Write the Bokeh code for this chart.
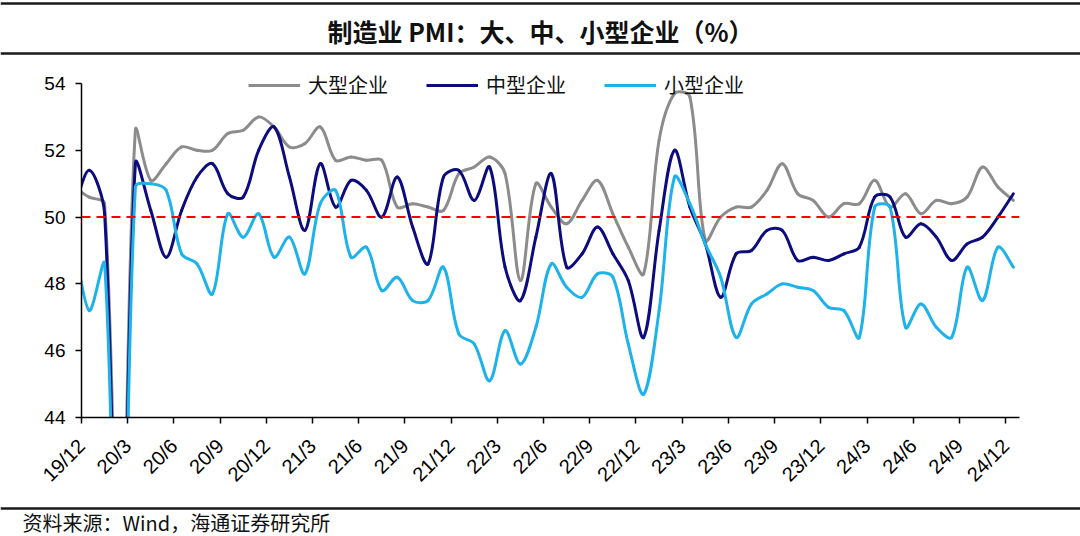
import math
import numpy as np
from bokeh.plotting import figure
from bokeh.models import Range1d, FixedTicker, Span, Legend, LegendItem, ColumnDataSource, Label
from bokeh.layouts import column, row
from bokeh.embed import file_html
from bokeh.resources import INLINE

# ---------------- data (monthly, 2019-11 .. 2024-12) ----------------
months = (["2019-11", "2019-12"] +
          [f"{y}-{m:02d}" for y in range(2020, 2025) for m in range(1, 13)])

large = [50.9, 50.6,
         50.4, 36.8, 52.6, 51.1, 51.6, 52.1, 52.0, 52.0, 52.5, 52.6, 53.0, 52.7,
         52.1, 52.2, 52.7, 51.7, 51.8, 51.7, 51.7, 50.3, 50.4, 50.3, 50.2, 51.3,
         51.5, 51.8, 51.3, 48.1, 51.0, 50.3, 49.8, 50.5, 51.1, 50.1, 49.1, 48.3,
         52.3, 53.7, 53.6, 49.3, 50.0, 50.3, 50.3, 50.8, 51.6, 50.7, 50.5, 50.0,
         50.4, 50.4, 51.1, 50.3, 50.7, 50.1, 50.5, 50.4, 50.6, 51.5, 50.9, 50.5]

medium = [50.2, 51.4,
          50.1, 35.5, 51.6, 50.2, 48.8, 50.2, 51.2, 51.6, 50.7, 50.6, 52.0, 52.7,
          51.2, 49.6, 51.6, 50.3, 51.1, 50.8, 50.0, 51.2, 49.7, 48.6, 51.2, 51.4,
          50.5, 51.5, 48.5, 47.5, 49.4, 51.3, 48.5, 48.9, 49.7, 48.9, 48.1, 46.4,
          49.6, 52.0, 50.3, 49.2, 47.6, 48.9, 49.0, 49.6, 49.6, 48.7, 48.8, 48.7,
          48.9, 49.1, 50.6, 50.6, 49.4, 49.8, 49.4, 48.7, 49.2, 49.4, 50.0, 50.7]

small = [49.4, 47.2,
         48.6, 34.1, 50.9, 51.0, 50.8, 48.9, 48.6, 47.7, 50.1, 49.4, 50.1, 48.8,
         49.4, 48.3, 50.4, 50.8, 48.8, 49.1, 47.8, 48.2, 47.5, 47.5, 48.5, 46.5,
         46.2, 45.1, 46.6, 45.6, 46.7, 48.6, 47.9, 47.6, 48.3, 48.2, 46.2, 44.7,
         47.2, 51.2, 50.4, 49.2, 48.2, 46.4, 47.4, 47.7, 48.0, 47.9, 47.8, 47.3,
         47.2, 46.4, 50.3, 50.3, 46.7, 47.4, 46.7, 46.4, 48.5, 47.5, 49.1, 48.5]

series_names = ["大型企业", "中型企业", "小型企业"]
series_colors = ["#8c8c8c", "#0c0c7e", "#1db2ea"]

tick_labels = ["19/12", "20/3", "20/6", "20/9", "20/12", "21/3", "21/6", "21/9",
               "21/12", "22/3", "22/6", "22/9", "22/12", "23/3", "23/6", "23/9",
               "23/12", "24/3", "24/6", "24/9", "24/12"]
y_ticks = [44, 46, 48, 50, 52, 54]

title_text = "制造业 PMI：大、中、小型企业（%）"
source_text = "资料来源：Wind，海通证券研究所"

# category centres: each month sits half a month past its boundary tick
xpos = [i - 0.5 for i in range(len(months))]   # 2019-11 -> -0.5, 2019-12 -> 0.5

# ---------------- layout constants ----------------
W = 1080
HEAD_H, MAIN_H, FOOT_H = 55, 441, 40
FR_LEFT, FR_RIGHT, FR_TOP, FR_BOTTOM = 81, 61, 12, 79
SY = 33.4                                        # px per PMI point
Y_END = 54 + (MAIN_H - FR_TOP - FR_BOTTOM - 10 * SY) / SY
X_END = 60.9
SX = (W - FR_LEFT - FR_RIGHT) / X_END            # px per month


def smooth_source(xs, ys):
    """Chord-weighted cubic Bezier segments through the data points (screen-space smoothing)."""
    P = np.column_stack([np.asarray(xs, float) * SX, np.asarray(ys, float) * SY])
    n = len(P)
    T = np.zeros_like(P)
    T[1:-1] = P[2:] - P[:-2]
    T[0] = P[1] - P[0]
    T[-1] = P[-1] - P[-2]
    d = np.linalg.norm(P[1:] - P[:-1], axis=1)
    c1, c2 = [], []
    for i in range(n - 1):
        dl = d[i - 1] if i > 0 else d[i]
        dr = d[i + 1] if i < n - 2 else d[i]
        c1.append(P[i] + T[i] * d[i] / (3.0 * (dl + d[i])))
        c2.append(P[i + 1] - T[i + 1] * d[i] / (3.0 * (d[i] + dr)))
    c1 = np.array(c1)
    c2 = np.array(c2)
    return ColumnDataSource(dict(
        x0=P[:-1, 0] / SX, y0=P[:-1, 1] / SY,
        x1=P[1:, 0] / SX, y1=P[1:, 1] / SY,
        cx0=c1[:, 0] / SX, cy0=c1[:, 1] / SY,
        cx1=c2[:, 0] / SX, cy1=c2[:, 1] / SY,
    ))


def blank_panel(height):
    fig = figure(width=W, height=height, x_range=Range1d(0, W), y_range=Range1d(height, 0),
                 output_backend="svg", toolbar_location=None, x_axis_type=None,
                 y_axis_type=None, min_border=0, min_border_left=0, min_border_right=0,
                 min_border_top=0, min_border_bottom=0)
    fig.outline_line_color = None
    return fig


# ---------------- header ----------------
h = blank_panel(HEAD_H)
h.add_layout(Span(location=3, dimension="width", line_color="#1a1a1a", line_width=2.5))
h.add_layout(Span(location=53, dimension="width", line_color="#1a1a1a", line_width=2.5))
h.add_layout(Label(x=W / 2, y=30, text=title_text, text_font="Noto Sans CJK SC",
                   text_font_style="bold", text_font_size="25px", text_color="#111111",
                   text_align="center", text_baseline="middle"))

# ---------------- main chart ----------------
p = figure(width=W, height=MAIN_H, x_range=Range1d(0, X_END), y_range=Range1d(44, Y_END),
           output_backend="svg", toolbar_location=None,
           min_border_left=FR_LEFT, min_border_right=FR_RIGHT,
           min_border_top=FR_TOP, min_border_bottom=FR_BOTTOM)
p.outline_line_color = None
p.grid.visible = False

for ax in (p.xaxis, p.yaxis):
    ax.axis_line_color = "black"
    ax.axis_line_width = 1.5
    ax.major_tick_line_color = "black"
    ax.major_tick_line_width = 1.5
    ax.major_tick_in = 0
    ax.major_tick_out = 6
    ax.minor_tick_line_color = None
    ax.major_label_text_font = "Liberation Sans"
    ax.major_label_text_color = "black"

p.xaxis.ticker = FixedTicker(ticks=[3 * i for i in range(len(tick_labels))])
p.xaxis.major_label_overrides = {3 * i: lab for i, lab in enumerate(tick_labels)}
p.xaxis.major_label_orientation = math.pi / 4
p.xaxis.major_label_text_font_size = "20px"
p.xaxis.major_label_standoff = 19
p.yaxis.ticker = FixedTicker(ticks=y_ticks)
p.yaxis.bounds = (44, 54)
p.yaxis.major_label_text_font_size = "19px"
p.yaxis.major_label_standoff = 10

p.add_layout(Span(location=50, dimension="width", line_color="#ff0000",
                  line_width=2, line_dash="9 6"))

legend_items = []
for name, col, vals in zip(series_names, series_colors, [large, medium, small]):
    src = smooth_source(xpos, vals)
    p.bezier(x0="x0", y0="y0", x1="x1", y1="y1", cx0="cx0", cy0="cy0",
             cx1="cx1", cy1="cy1", source=src, line_color=col, line_width=3,
             line_cap="round")
    # legend-only sample line (no visible data)
    dummy = p.line(x=[np.nan, np.nan], y=[np.nan, np.nan], line_color=col, line_width=3)
    legend_items.append(LegendItem(label=name, renderers=[dummy]))

legend = Legend(items=legend_items, orientation="horizontal", location=(167, 318),
                glyph_width=52, glyph_height=20, label_standoff=8, spacing=38,
                padding=0, margin=0, border_line_color=None, background_fill_alpha=0,
                label_text_font="Noto Sans CJK SC", label_text_font_size="20px",
                label_text_color="#111111", label_height=20)
p.add_layout(legend)

# ---------------- footer ----------------
f = blank_panel(FOOT_H)
f.add_layout(Span(location=12, dimension="width", line_color="#1a1a1a", line_width=2.5))
f.add_layout(Label(x=22, y=26, text=source_text, text_font="Noto Sans CJK SC",
                   text_font_size="20px", text_color="#111111",
                   text_align="left", text_baseline="middle"))

layout = column(row(h), row(p), row(f), spacing=0)
open("out.html", "w").write(file_html(layout, INLINE))
